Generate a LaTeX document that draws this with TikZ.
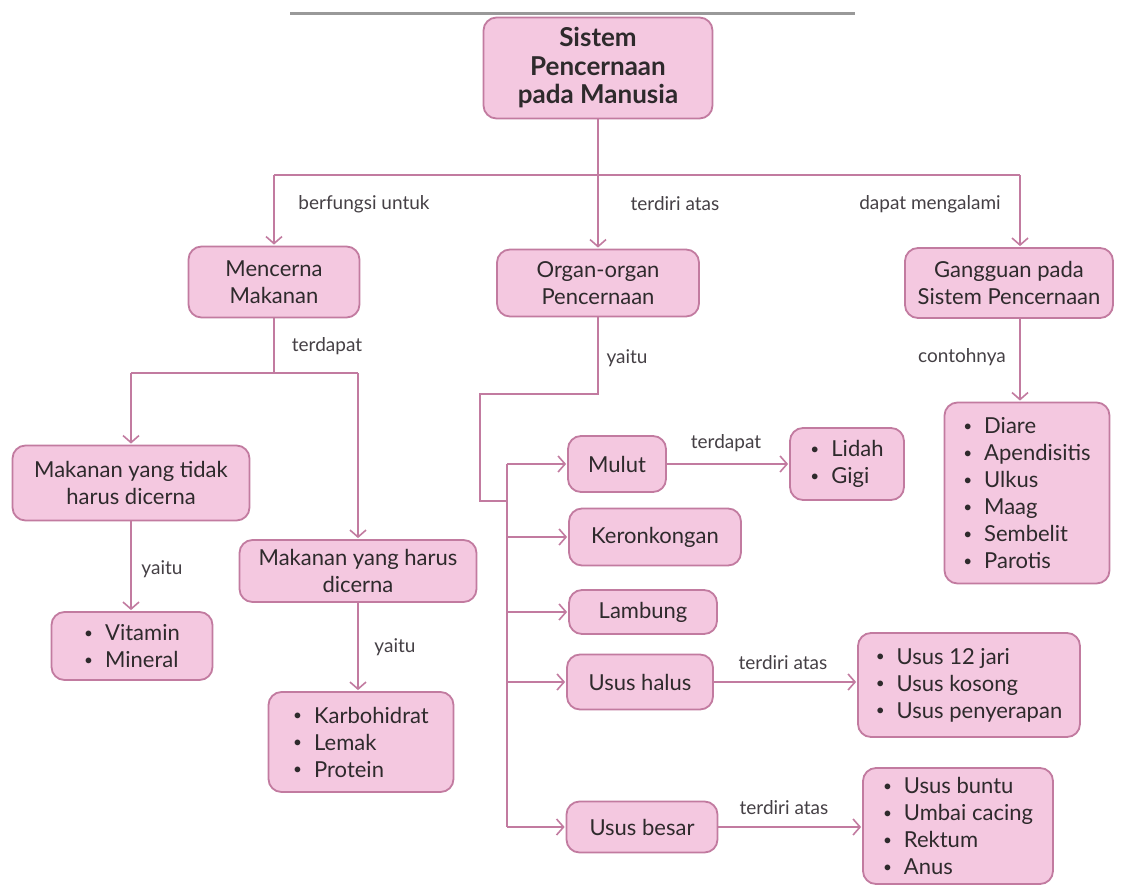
\documentclass[tikz,border=0pt]{standalone}
\usepackage{fontspec}
\setmainfont{Lato}
\usetikzlibrary{arrows.meta}
\definecolor{boxfill}{HTML}{F4C8E0}
\definecolor{boxline}{HTML}{C27BA0}
\definecolor{txt}{HTML}{2E2A2C}
\definecolor{lbltxt}{HTML}{454045}
\newcommand{\blt}{\raisebox{0.2ex}{\scalebox{0.7}{\textbullet}}\hspace{12pt}}
\begin{document}
\begin{tikzpicture}[x=1pt,y=-1pt,
  box/.style={draw=boxline, fill=boxfill, line width=1.8pt, rounded corners=13pt, align=center, text=txt, font=\fontsize{22}{27}\selectfont, inner sep=0pt},
  lst/.style={box, align=left},
  conn/.style={draw=boxline, line width=1.8pt},
  arr/.style={conn, -{Straight Barb[length=7pt,width=16pt,line width=1.6pt]}, shorten >=1pt},
  lbl/.style={text=lbltxt, font=\fontsize{19}{22}\selectfont, inner sep=0pt}]
\useasboundingbox (0,0) rectangle (1122,886);
\fill[white] (0,0) rectangle (1122,886);
\draw[line width=3pt, color=black!40] (290,13) -- (855,13);

% nodes
\node[box, minimum width=229pt, minimum height=101pt, font=\bfseries\fontsize{26}{28.5}\selectfont] (root) at (598,68) {Sistem\\Pencernaan\\pada Manusia};
\node[box, minimum width=171pt, minimum height=71pt] (mencerna) at (274,282) {Mencerna\\Makanan};
\node[box, minimum width=202pt, minimum height=67pt] (organ) at (598,283) {Organ-organ\\Pencernaan};
\node[box, minimum width=208pt, minimum height=70pt] (gangguan) at (1009,283) {Gangguan pada\\Sistem Pencernaan};
\node[box, minimum width=237pt, minimum height=75pt] (tidak) at (131,483) {Makanan yang tidak\\harus dicerna};
\node[lst, minimum width=161pt, minimum height=68pt] (vitamin) at (132,646) {\blt Vitamin\\\blt Mineral};
\node[box, minimum width=237pt, minimum height=62pt] (harus) at (358,571) {Makanan yang harus\\dicerna};
\node[lst, minimum width=185pt, minimum height=100pt] (karbo) at (361,742) {\blt Karbohidrat\\\blt Lemak\\\blt Protein};
\node[box, minimum width=98pt, minimum height=56pt] (mulut) at (617,464) {Mulut};
\node[lst, minimum width=114pt, minimum height=72pt] (lidah) at (847,464) {\blt Lidah\\\blt Gigi};
\node[box, minimum width=172pt, minimum height=57pt] (keron) at (655,537) {Keronkongan};
\node[box, minimum width=148pt, minimum height=44pt] (lambung) at (643,612) {Lambung};
\node[box, minimum width=146pt, minimum height=55pt] (halus) at (640,682) {Usus halus};
\node[lst, minimum width=222pt, minimum height=104pt] (duabelas) at (969,685) {\blt Usus 12 jari\\\blt Usus kosong\\\blt Usus penyerapan};
\node[box, minimum width=151pt, minimum height=51pt] (besar) at (642,827) {Usus besar};
\node[lst, minimum width=190pt, minimum height=116pt] (buntu) at (958,826) {\blt Usus buntu\\\blt Umbai cacing\\\blt Rektum\\\blt Anus};
\node[lst, minimum width=165pt, minimum height=181pt] (diare) at (1027,493) {\blt Diare\\\blt Apendisitis\\\blt Ulkus\\\blt Maag\\\blt Sembelit\\\blt Parotis};

% labels
\node[lbl] (l1) at (364,204) {berfungsi untuk};
\node[lbl] (l2) at (675,204) {terdiri atas};
\node[lbl] (l3) at (930,204) {dapat mengalami};
\node[lbl] (l4) at (327,346) {terdapat};
\node[lbl] (l5) at (627,358) {yaitu};
\node[lbl] (l6) at (962,357) {contohnya};
\node[lbl] (l7) at (162,569) {yaitu};
\node[lbl] (l8) at (395,647) {yaitu};
\node[lbl] (l9) at (726,443) {terdapat};
\node[lbl] (l10) at (783,663) {terdiri atas};
\node[lbl] (l11) at (784,808) {terdiri atas};

% top connectors
\coordinate (j0) at (598,175);
\coordinate (jL) at (274,175);
\coordinate (jR) at (1020,175);
\draw[conn] (root.south) -- (j0);
\draw[conn] (jL) -- (jR);
\draw[arr] (jL) -- (mencerna.north);
\draw[arr] (j0) -- (organ.north);
\draw[arr] (jR) -- (jR |- gangguan.north);

% left branch
\coordinate (m1) at (274,373);
\draw[conn] (mencerna.south) -- (m1);
\draw[conn] (tidak.north |- m1) -- (harus.north |- m1);
\draw[arr] (tidak.north |- m1) -- (tidak.north);
\draw[arr] (harus.north |- m1) -- (harus.north);
\draw[arr] (tidak.south) -- (tidak.south |- vitamin.north);
\draw[arr] (harus.south) -- (harus.south |- karbo.north);

% organ branch
\coordinate (o1) at (598,394);
\coordinate (o2) at (480,394);
\coordinate (o3) at (480,501);
\coordinate (ttop) at (507,464);
\coordinate (tbot) at (507,827);
\draw[conn] (organ.south) -- (o1) -- (o2) -- (o3) -- (o3 -| ttop);
\draw[conn] (ttop) -- (tbot);
\draw[arr] (ttop) -- (mulut.west);
\draw[arr] (keron.west -| ttop) -- (keron.west);
\draw[arr] (lambung.west -| ttop) -- (lambung.west);
\draw[arr] (halus.west -| ttop) -- (halus.west);
\draw[arr] (tbot) -- (besar.west);
\draw[arr] (mulut.east) -- (lidah.west);
\draw[arr] (halus.east) -- (halus.east -| duabelas.west);
\draw[arr] (besar.east) -- (besar.east -| buntu.west);

% right branch
\draw[arr] (jR |- gangguan.south) -- (jR |- diare.north);
\end{tikzpicture}
\end{document}
